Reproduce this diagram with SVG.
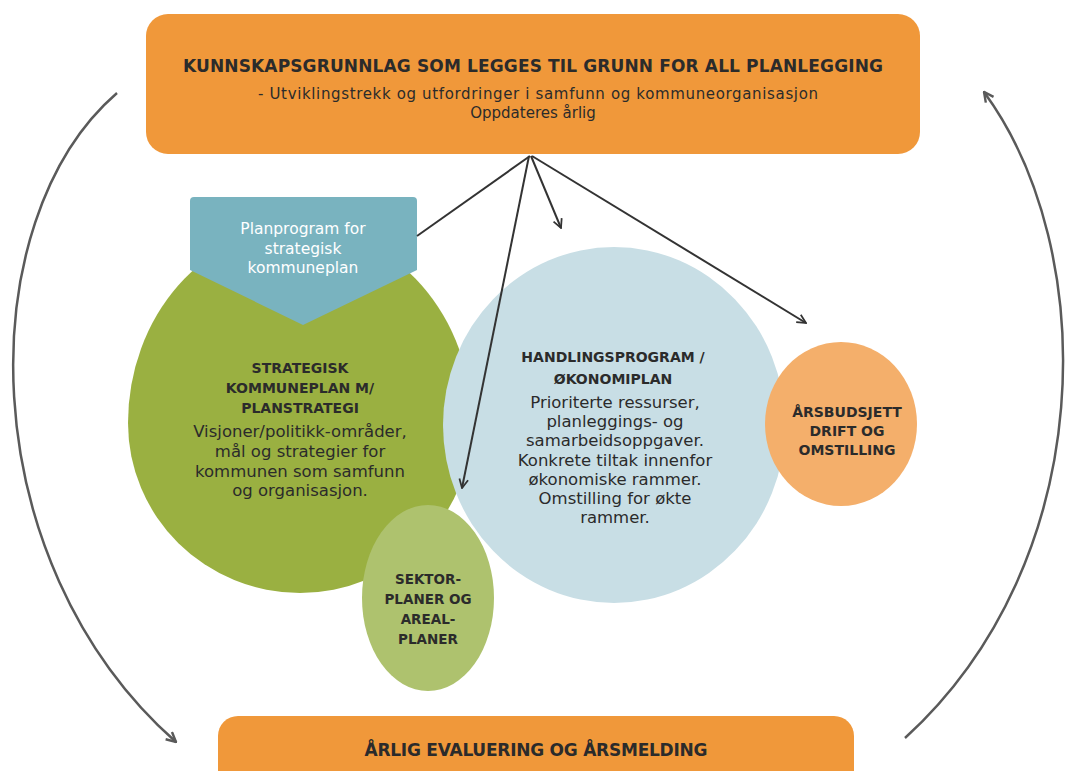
<svg xmlns="http://www.w3.org/2000/svg" width="1065" height="771" viewBox="0 0 1065 771">
<style>
.t{font-family:"DejaVu Sans","Liberation Sans",sans-serif;fill:#2b2b2b;text-anchor:middle}
.b{font-weight:bold}
.w{fill:#ffffff}
.conn{stroke:#333;stroke-width:2;fill:none}
.arc{stroke:#5a5a5a;stroke-width:2.5;fill:none}
</style>
<defs>
<marker id="ah" viewBox="0 0 10 10" refX="9" refY="5" markerWidth="11" markerHeight="11" orient="auto" markerUnits="userSpaceOnUse">
<path d="M1,1 L9,5 L1,9" fill="none" stroke="#333" stroke-width="1.6"/>
</marker>
<marker id="ah2" viewBox="0 0 10 10" refX="9" refY="5" markerWidth="12" markerHeight="12" orient="auto" markerUnits="userSpaceOnUse">
<path d="M1,1 L9,5 L1,9" fill="none" stroke="#5a5a5a" stroke-width="2"/>
</marker>
</defs>
<rect width="1065" height="771" fill="#ffffff"/>

<g id="top-box">
<rect x="146" y="14" width="774" height="140" rx="22" fill="#F0983A"/>
<text class="t b" x="533" y="72" font-size="17" textLength="700">KUNNSKAPSGRUNNLAG SOM LEGGES TIL GRUNN FOR ALL PLANLEGGING</text>
<text class="t" x="538" y="99" font-size="15" textLength="560">- Utviklingstrekk og utfordringer i samfunn og kommuneorganisasjon</text>
<text class="t" x="533" y="118" font-size="15">Oppdateres årlig</text>
</g>

<g id="strategisk">
<path d="M128,423 A172,195 0 0 1 472,423 A172,170 0 0 1 128,423 Z" fill="#9AB041"/>
<text class="t b" font-size="14"><tspan x="300" y="373">STRATEGISK</tspan><tspan x="300" y="393">KOMMUNEPLAN M/</tspan><tspan x="300" y="413">PLANSTRATEGI</tspan></text>
<text class="t" font-size="16.5"><tspan x="300" y="437">Visjoner/politikk-områder,</tspan><tspan x="300" y="457">mål og strategier for</tspan><tspan x="300" y="477">kommunen som samfunn</tspan><tspan x="300" y="496">og organisasjon.</tspan></text>
</g>

<g id="planprogram">
<path d="M194,197 H413 Q417,197 417,201 V270 L303,325 L190,270 V201 Q190,197 194,197 Z" fill="#79B3BF"/>
<text class="t w" font-size="15.5"><tspan x="303" y="234">Planprogram for</tspan><tspan x="303" y="254">strategisk</tspan><tspan x="303" y="273">kommuneplan</tspan></text>
</g>

<g id="handlingsprogram">
<ellipse cx="614" cy="425" rx="171" ry="178" fill="#C8DEE5"/>
<text class="t b" font-size="14"><tspan x="613" y="362">HANDLINGSPROGRAM /</tspan><tspan x="613" y="384">ØKONOMIPLAN</tspan></text>
<text class="t" font-size="16.5"><tspan x="615" y="408">Prioriterte ressurser,</tspan><tspan x="615" y="427">planleggings- og</tspan><tspan x="615" y="446">samarbeidsoppgaver.</tspan><tspan x="615" y="466">Konkrete tiltak innenfor</tspan><tspan x="615" y="485">økonomiske rammer.</tspan><tspan x="615" y="504">Omstilling for økte</tspan><tspan x="615" y="523">rammer.</tspan></text>
</g>

<g id="arsbudsjett">
<ellipse cx="841" cy="424" rx="76" ry="82" fill="#F4AF6B"/>
<text class="t b" font-size="14" fill="#3a2a20"><tspan x="847" y="417">ÅRSBUDSJETT</tspan><tspan x="847" y="436">DRIFT OG</tspan><tspan x="847" y="455">OMSTILLING</tspan></text>
</g>

<g id="sektor">
<ellipse cx="428" cy="598" rx="66" ry="93" fill="#AEC26E"/>
<text class="t b" font-size="13.5"><tspan x="428" y="584">SEKTOR-</tspan><tspan x="428" y="604">PLANER OG</tspan><tspan x="428" y="624">AREAL-</tspan><tspan x="428" y="644">PLANER</tspan></text>
</g>

<g id="bottom-box">
<rect x="218" y="716" width="636" height="80" rx="20" fill="#F0983A"/>
<text class="t b" x="536" y="756" font-size="17" textLength="343">ÅRLIG EVALUERING OG ÅRSMELDING</text>
</g>

<g id="connectors">
<line class="conn" x1="530" y1="156" x2="417" y2="236"/>
<line class="conn" x1="531" y1="156" x2="561" y2="228" marker-end="url(#ah)"/>
<line class="conn" x1="529" y1="156" x2="462" y2="488" marker-end="url(#ah)"/>
<line class="conn" x1="532" y1="156" x2="806" y2="323" marker-end="url(#ah)"/>
<path class="arc" d="M117,93 C-30,220 -30,560 176,742" marker-end="url(#ah2)"/>
<path class="arc" d="M905,738 C1100,560 1100,250 984,92" marker-end="url(#ah2)"/>
</g>
</svg>
